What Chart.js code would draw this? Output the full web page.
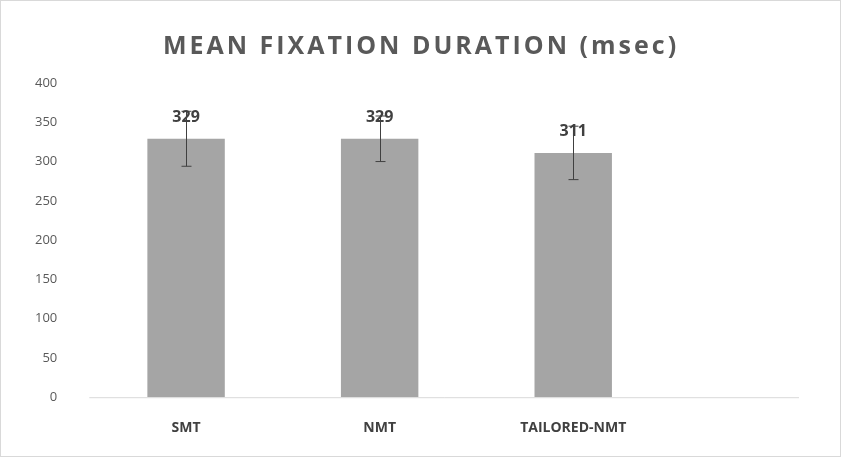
<!DOCTYPE html>
<html><head><meta charset="utf-8">
<script src="https://cdn.jsdelivr.net/npm/chart.js@4"></script>
<style>html,body{margin:0;background:#fff}#w{position:relative;width:839px;height:455px;border:1px solid #d9d9d9}</style>
</head><body><div id="w"><canvas id="c"></canvas></div>
<script>
const categories = ['SMT', 'NMT', 'TAILORED-NMT'];
const meanValues = [329, 329, 311];
const errorValues = [35, 29, 34];
const yTicks = [0, 50, 100, 150, 200, 250, 300, 350, 400];
const titleText = 'MEAN FIXATION DURATION (msec)';

const extras = {
  id: 'extras',
  afterDatasetsDraw(chart) {
    const ctx = chart.ctx, y = chart.scales.y, meta = chart.getDatasetMeta(0);
    ctx.save();
    // title
    ctx.fillStyle = '#595959'; ctx.font = 'bold 25px "Open Sans", sans-serif';
    ctx.letterSpacing = '3px';
    ctx.textAlign = 'center'; ctx.textBaseline = 'middle';
    ctx.fillText(titleText, 420, 46);
    ctx.letterSpacing = '0px';
    // baseline
    ctx.strokeStyle = '#d9d9d9'; ctx.lineWidth = 1;
    ctx.beginPath(); ctx.moveTo(chart.chartArea.left, y.getPixelForValue(0) + 0.5);
    ctx.lineTo(798, y.getPixelForValue(0) + 0.5); ctx.stroke();
    // error bars
    ctx.strokeStyle = '#404040'; ctx.lineWidth = 1;
    meta.data.forEach((bar, i) => {
      const x = Math.round(bar.x) + 0.5;
      const t = y.getPixelForValue(meanValues[i] + errorValues[i]);
      const b = y.getPixelForValue(meanValues[i] - errorValues[i]);
      ctx.beginPath(); ctx.moveTo(x, t); ctx.lineTo(x, b);
      ctx.moveTo(x - 5, t); ctx.lineTo(x + 5, t);
      ctx.moveTo(x - 5, b); ctx.lineTo(x + 5, b); ctx.stroke();
    });
    // data labels
    ctx.fillStyle = '#404040'; ctx.font = 'bold 16px "Open Sans", sans-serif';
    ctx.textAlign = 'center'; ctx.textBaseline = 'bottom';
    meta.data.forEach((bar, i) => ctx.fillText(String(meanValues[i]), bar.x, bar.y - 13));
    ctx.restore();
  }
};

new Chart(document.getElementById('c'), {
  type: 'bar',
  data: { labels: categories, datasets: [{ data: meanValues, backgroundColor: '#a5a5a5',
    barPercentage: 0.4, categoryPercentage: 1 }] },
  options: {
    responsive: true, maintainAspectRatio: false, animation: false,
    layout: { padding: { left: 10, right: 170, top: 82, bottom: 6 } },
    plugins: {
      legend: { display: false }, tooltip: { enabled: false }, title: { display: false }
    },
    scales: {
      x: { grid: { display: false }, border: { display: false },
        ticks: { color: '#404040', padding: 14, font: { family: '"Open Sans", sans-serif', size: 14, weight: 'bold' } } },
      y: { min: 0, max: 400, grid: { display: false }, border: { display: false },
        afterBuildTicks(s) { s.ticks = yTicks.map(v => ({ value: v })); },
        ticks: { color: '#595959', padding: 24, font: { family: '"Open Sans", sans-serif', size: 13 } } }
    }
  },
  plugins: [extras]
});
</script></body></html>
